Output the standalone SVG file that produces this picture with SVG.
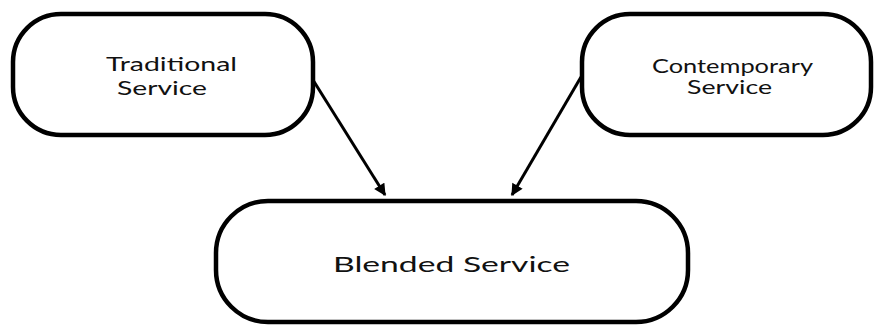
<svg xmlns="http://www.w3.org/2000/svg" width="874" height="326" viewBox="0 0 874 326">
<style>
.box{fill:#fff;stroke:#000;stroke-width:4.5}
.t{font-family:Lato,"Liberation Sans",sans-serif;fill:#111}
.c{stroke:#000;stroke-width:3;fill:none}
</style>
<defs>
<marker id="ah" viewBox="0 0 10 10" refX="9" refY="5" markerWidth="4.2" markerHeight="4" orient="auto" markerUnits="strokeWidth">
<path d="M0,0 L10,5 L0,10 z" fill="#000"/>
</marker>
</defs>
<rect width="874" height="326" fill="#fff"/>
<g id="connectors">
<line class="c" x1="313" y1="80" x2="385" y2="195" marker-end="url(#ah)"/>
<line class="c" x1="581" y1="77" x2="512" y2="195" marker-end="url(#ah)"/>
</g>
<g id="traditional">
<rect class="box" x="13" y="14" width="300" height="121" rx="48" ry="48"/>
<text class="t" x="106" y="71" font-size="19.5" textLength="131" lengthAdjust="spacingAndGlyphs">Traditional</text>
<text class="t" x="117" y="95" font-size="19.5" textLength="90" lengthAdjust="spacingAndGlyphs">Service</text>
</g>
<g id="contemporary">
<rect class="box" x="582" y="14" width="289" height="121" rx="48" ry="48"/>
<text class="t" x="652" y="73" font-size="18.5" textLength="161" lengthAdjust="spacingAndGlyphs">Contemporary</text>
<text class="t" x="687" y="94" font-size="18.5" textLength="85" lengthAdjust="spacingAndGlyphs">Service</text>
</g>
<g id="blended">
<rect class="box" x="216" y="201" width="472" height="121" rx="52" ry="52"/>
<text class="t" x="333" y="272" font-size="21.5" textLength="237" lengthAdjust="spacingAndGlyphs">Blended Service</text>
</g>
</svg>
